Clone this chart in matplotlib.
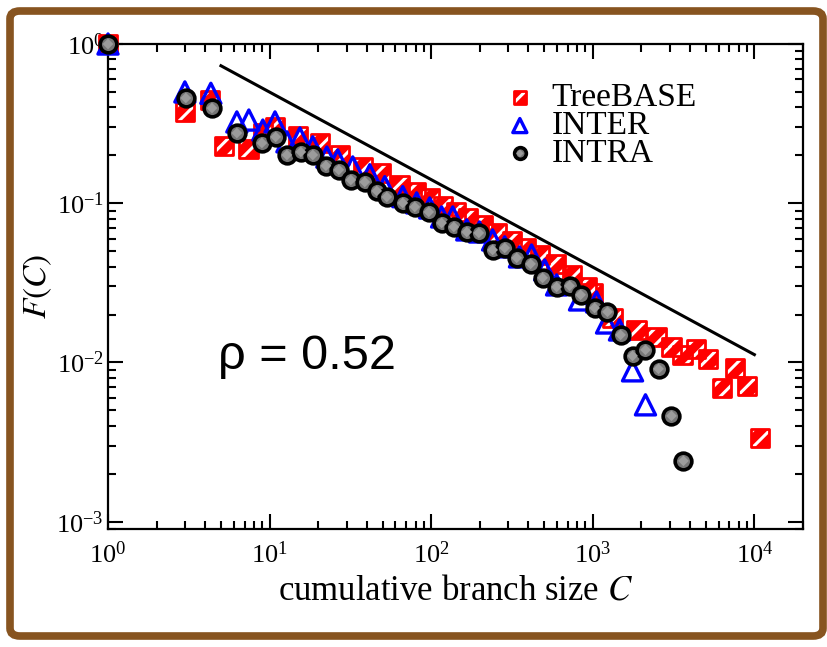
import matplotlib
matplotlib.use("Agg")
import matplotlib.pyplot as plt
from matplotlib.patches import FancyBboxPatch
from matplotlib.legend_handler import HandlerTuple
from matplotlib.ticker import LogLocator, LogFormatterMathtext, NullFormatter

plt.rcParams["font.family"] = ["Liberation Serif", "DejaVu Serif"]
plt.rcParams["mathtext.fontset"] = "stix"
plt.rcParams["hatch.linewidth"] = 2.2

# ---- data: F(C) versus cumulative branch size C ----
treebase_c = [1, 3.0, 4.3, 5.2, 7.4, 9.1, 10.8, 14.9, 20.5, 27.2, 37.7, 49,
              64, 81, 98, 118, 142, 168, 208, 254, 315, 384, 469, 589, 739,
              915, 996, 1325, 1864, 2478, 3069, 3589, 4375, 5196, 6342, 7634,
              9055, 10890]
treebase_f = [1.0, 0.374, 0.445, 0.229, 0.219, 0.276, 0.301, 0.264, 0.239,
              0.201, 0.169, 0.155, 0.130, 0.118, 0.108, 0.0962, 0.0882,
              0.0809, 0.0731, 0.0651, 0.0580, 0.0524, 0.0473, 0.0416, 0.0355,
              0.0298, 0.0273, 0.0191, 0.0160, 0.0145, 0.01253, 0.01116,
              0.01217, 0.01054, 0.00693, 0.00925, 0.00713, 0.00336]

inter_c = [1, 2.99, 4.33, 6.27, 7.44, 9.08, 10.8, 12.8, 15.4, 18.5, 22.6,
           26.4, 32.7, 41.7, 51.6, 66.7, 81.3, 97.9, 116, 136, 166, 199, 240,
           285, 352, 418, 504, 597, 828, 1055, 1217, 1463, 1762, 2119]
inter_f = [1.0, 0.50, 0.49, 0.324, 0.333, 0.288, 0.324, 0.243, 0.257, 0.226,
           0.195, 0.187, 0.169, 0.151, 0.127, 0.110, 0.1005, 0.0934, 0.082,
           0.082, 0.068, 0.066, 0.0588, 0.0532, 0.046, 0.0473, 0.0381,
           0.0307, 0.0247, 0.0240, 0.0177, 0.0160, 0.00886, 0.00542]

intra_c = [1, 3.03, 4.40, 6.27, 8.96, 10.9, 12.8, 15.6, 18.5, 22.3, 26.8,
           31.8, 38.8, 46.0, 53.1, 66.7, 79.1, 96.5, 116, 138, 166, 197, 240,
           285, 338, 412, 489, 597, 718, 840, 1026, 1233, 1485, 1762, 2119,
           2551, 3069, 3639]
intra_f = [1.0, 0.458, 0.396, 0.276, 0.239, 0.261, 0.201, 0.210, 0.201, 0.172,
           0.162, 0.140, 0.136, 0.1195, 0.1096, 0.1005, 0.0948, 0.0882,
           0.0752, 0.071, 0.066, 0.0651, 0.0509, 0.0524, 0.0454, 0.0416,
           0.034, 0.0298, 0.0303, 0.0266, 0.022, 0.0208, 0.0149, 0.011,
           0.012, 0.00912, 0.00462, 0.00241]

# power-law guide line
guide_c = [5, 10000]
guide_f = [0.73, 0.0112]
rho_text = "ρ = 0.52"

fig = plt.figure(figsize=(8.27, 6.47), dpi=100)
ax = fig.add_axes([0.1306, 0.1824, 0.8404, 0.7496])

# TreeBASE: red squares with white diagonal stripes
tb_fill = ax.scatter(treebase_c, treebase_f, marker="s", s=170, facecolor="red",
                     edgecolor="white", hatch="//", linewidths=0, zorder=3,
                     clip_on=False)
tb_edge = ax.scatter(treebase_c, treebase_f, marker="s", s=170, facecolor="none",
                     edgecolor="red", linewidths=2.0, zorder=3, clip_on=False)

# INTER: open blue triangles
it = ax.scatter(inter_c, inter_f, marker="^", s=210, facecolor="none",
                edgecolor="blue", linewidths=2.4, zorder=4, clip_on=False)

# INTRA: grey circles with black rim and a light stipple
ic = ax.scatter(intra_c, intra_f, marker="o", s=145, facecolor="#767676",
                edgecolor="black", linewidths=2.6, zorder=5, clip_on=False)
ic_dot = ax.scatter(intra_c, intra_f, marker="D", s=30, facecolor="#9c9c9c",
                    edgecolor="none", linewidths=0, zorder=6, clip_on=False)

ax.plot(guide_c, guide_f, color="black", lw=2.2, zorder=2)

ax.set_xscale("log")
ax.set_yscale("log")
ax.set_xlim(1, 2e4)
ax.set_ylim(9.0e-4, 1)

ax.xaxis.set_major_locator(LogLocator(base=10, numticks=10))
ax.yaxis.set_major_locator(LogLocator(base=10, numticks=10))
ax.xaxis.set_minor_locator(LogLocator(base=10, subs=range(2, 10), numticks=20))
ax.yaxis.set_minor_locator(LogLocator(base=10, subs=range(2, 10), numticks=20))
ax.xaxis.set_major_formatter(LogFormatterMathtext())
ax.yaxis.set_major_formatter(LogFormatterMathtext())
ax.xaxis.set_minor_formatter(NullFormatter())
ax.yaxis.set_minor_formatter(NullFormatter())

ax.tick_params(which="both", direction="in", top=True, right=True, width=1.5,
               labelsize=19)
ax.tick_params(which="major", length=11)
ax.tick_params(which="minor", length=6)
ax.tick_params(axis="x", which="major", pad=9)
ax.tick_params(axis="y", which="major", pad=3)
for sp in ax.spines.values():
    sp.set_linewidth(1.6)

ax.set_xlabel("cumulative branch size $C$", fontsize=25, labelpad=5)
ax.set_ylabel("$F(C)$", fontsize=24, labelpad=2)

ax.text(0.158, 0.355, rho_text, transform=ax.transAxes, fontsize=35,
        family=["Liberation Sans", "DejaVu Sans"], ha="left", va="center")

leg = ax.legend([(tb_fill, tb_edge), it, (ic, ic_dot)],
                ["TreeBASE", "INTER", "INTRA"],
                handler_map={tuple: HandlerTuple(ndivide=1, pad=0)},
                loc="upper left", bbox_to_anchor=(0.547, 0.954), frameon=False,
                fontsize=24, markerscale=0.7, handlelength=0.9,
                handletextpad=0.5, labelspacing=-0.08, borderpad=0)

# brown picture frame around the whole figure
frame = FancyBboxPatch((10 / 827, 11 / 647), 813 / 827, 625 / 647,
                       boxstyle="round,pad=0,rounding_size=0.012",
                       transform=fig.transFigure, facecolor="none",
                       edgecolor="#875420", linewidth=5.5, zorder=10)
fig.patches.append(frame)

fig.savefig("out.png", dpi=100)
